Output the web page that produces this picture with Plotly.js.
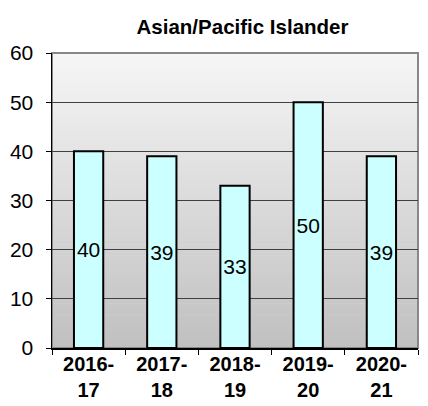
<!DOCTYPE html>
<html>
<head>
<meta charset="utf-8">
<script src="https://cdn.plot.ly/plotly-3.0.1.min.js"></script>
<style>html,body{margin:0;padding:0;background:#fff;}#chart{width:428px;height:406px;}</style>
</head>
<body>
<div id="chart"></div>
<script>
var categories = ["2016-<br>17", "2017-<br>18", "2018-<br>19", "2019-<br>20", "2020-<br>21"];
var values = [40, 39, 33, 50, 39];
var chartTitle = "Asian/Pacific Islander";

// vertical gradient background as thin bands (style only)
var shapes = [];
var nBands = 80, topC = 246, botC = 192;
for (var i = 0; i < nBands; i++) {
  var f = (i + 0.5) / nBands;
  var c = Math.round(botC + (topC - botC) * f);
  shapes.push({type: 'rect', xref: 'paper', yref: 'paper', x0: 0, x1: 1,
    y0: i / nBands, y1: (i + 1) / nBands + 0.002, line: {width: 0},
    fillcolor: 'rgb(' + c + ',' + c + ',' + c + ')', layer: 'below'});
}
shapes.push({type: 'rect', xref: 'paper', yref: 'paper', x0: 0, x1: 1, y0: 0, y1: 1,
  line: {color: '#888888', width: 2}, fillcolor: 'rgba(0,0,0,0)', layer: 'below'});

var trace = {
  type: 'bar',
  x: categories,
  y: values,
  text: values.map(String),
  textposition: 'inside',
  insidetextanchor: 'middle',
  textangle: 0,
  constraintext: 'none',
  textfont: {family: 'Liberation Sans, Arial, sans-serif', size: 21, color: '#000'},
  marker: {color: '#ccffff', line: {color: '#000', width: 2}},
  hoverinfo: 'none'
};

var layout = {
  width: 428, height: 406,
  margin: {l: 52, r: 10, t: 53, b: 58},
  paper_bgcolor: '#ffffff',
  plot_bgcolor: 'rgba(0,0,0,0)',
  showlegend: false,
  bargap: 0.6,
  font: {family: 'Liberation Sans, Arial, sans-serif', color: '#000'},
  title: {text: '<b>' + chartTitle + '</b>', font: {size: 20.5, color: '#000'},
    x: 242.5 / 428, xanchor: 'center', xref: 'container',
    y: 1 - 27 / 406, yanchor: 'middle', yref: 'container'},
  xaxis: {
    type: 'category',
    tickson: 'boundaries', ticks: 'outside', ticklen: 5, tickcolor: '#000', tickwidth: 1,
    showline: true, linecolor: '#000', linewidth: 1.5,
    showgrid: false,
    ticklabelstandoff: -3,
    tickfont: {size: 20, color: '#000', family: 'Liberation Sans, Arial, sans-serif', weight: 'bold'},
    fixedrange: true
  },
  yaxis: {
    range: [0, 60], dtick: 10, tick0: 0,
    ticks: 'outside', ticklen: 5, tickcolor: '#000', tickwidth: 1,
    showline: true, linecolor: '#000', linewidth: 1.5,
    showgrid: true, gridcolor: '#404040', gridwidth: 1,
    zeroline: false,
    ticklabelstandoff: 8,
    tickfont: {size: 21, color: '#000'},
    fixedrange: true
  },
  shapes: shapes
};

Plotly.newPlot('chart', [trace], layout, {displayModeBar: false, staticPlot: true});
</script>
</body>
</html>
